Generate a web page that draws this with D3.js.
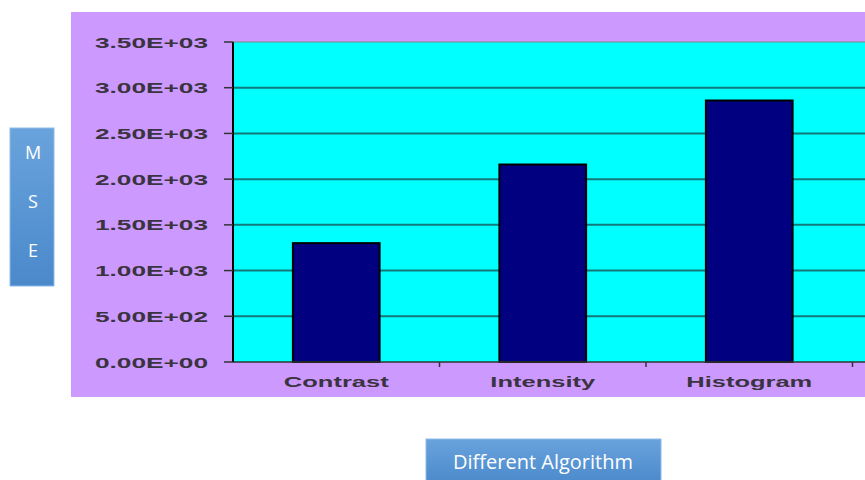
<!DOCTYPE html>
<html>
<head>
<meta charset="utf-8">
<script src="https://cdn.jsdelivr.net/npm/d3@7"></script>
<style>
  body { margin: 0; background: #fff; }
  .tickText { font-family: Arial, "Liberation Sans", sans-serif; font-weight: bold; font-size: 15px; fill: #3a3340; }
  .boxText { font-family: "Open Sans", sans-serif; fill: #fff; }
</style>
</head>
<body>
<svg width="865" height="480"></svg>
<script>
var svg = d3.select("svg"),
    width = +svg.attr("width"),
    height = +svg.attr("height");

// data
var categories = ["Contrast", "Intensity", "Histogram"];
var mseValues = [1300, 2160, 2860];
var yTicks = [0, 500, 1000, 1500, 2000, 2500, 3000, 3500];

var plot = {left: 233, right: 852.5, top: 42, bottom: 362};

var y = d3.scaleLinear().domain([0, 3500]).range([plot.bottom, plot.top]);
var x = d3.scaleBand().domain(categories).range([plot.left, plot.right])
    .paddingInner(0.58).paddingOuter(0.29);

// "3.50E+03" style labels
function sciFormat(v) {
  var s = d3.format(".2e")(v).toUpperCase(); // 3.50E+3
  return s.replace(/E([+-])(\d)$/, "E$10$2");
}

var defs = svg.append("defs");
var grad = defs.append("linearGradient").attr("id", "boxGrad")
    .attr("x1", 0).attr("y1", 0).attr("x2", 0).attr("y2", 1);
grad.append("stop").attr("offset", "0%").attr("stop-color", "#69a3dd");
grad.append("stop").attr("offset", "100%").attr("stop-color", "#4b89cb");

// chart area (lavender) and plot area (cyan)
svg.append("rect")
    .attr("x", 71).attr("y", 12)
    .attr("width", width - 71 + 5).attr("height", 385)
    .attr("fill", "#cc99ff");

svg.append("rect")
    .attr("x", plot.left).attr("y", plot.top)
    .attr("width", width - plot.left + 5).attr("height", plot.bottom - plot.top)
    .attr("fill", "#00ffff");

// gridlines
svg.selectAll(".grid")
    .data(yTicks.filter(function (d) { return d > 0; }))
    .enter().append("line")
    .attr("class", "grid")
    .attr("x1", plot.left).attr("x2", width + 5)
    .attr("y1", function (d) { return y(d); })
    .attr("y2", function (d) { return y(d); })
    .attr("stroke", function (d) { return d == 3500 ? "#7a8a8a" : "#137878"; })
    .attr("stroke-width", function (d) { return d == 3500 ? 1.2 : 2; });

// bars
svg.selectAll(".bar")
    .data(mseValues)
    .enter().append("rect")
    .attr("class", "bar")
    .attr("x", function (d, i) { return x(categories[i]); })
    .attr("y", function (d) { return y(d); })
    .attr("width", x.bandwidth())
    .attr("height", function (d) { return y(0) - y(d); })
    .attr("fill", "#000080")
    .attr("stroke", "#000")
    .attr("stroke-width", 2);

// x axis line and ticks at band boundaries
svg.append("line")
    .attr("x1", plot.left).attr("x2", width + 5)
    .attr("y1", plot.bottom).attr("y2", plot.bottom)
    .attr("stroke", "#333").attr("stroke-width", 1.5);

var bounds = categories.map(function (c) { return x(c) - x.step() * x.paddingInner() / 2 + x.step(); });
svg.selectAll(".xtick")
    .data(bounds)
    .enter().append("line")
    .attr("x1", function (d) { return d; }).attr("x2", function (d) { return d; })
    .attr("y1", plot.bottom).attr("y2", plot.bottom + 5)
    .attr("stroke", "#333").attr("stroke-width", 1.5);

svg.selectAll(".xlabel")
    .data(categories)
    .enter().append("text")
    .attr("class", "tickText")
    .attr("text-anchor", "middle")
    .attr("transform", function (d) { return "translate(" + (x(d) + x.bandwidth() / 2) + ",387) scale(1.7,1)"; })
    .text(function (d) { return d; });

// y axis
svg.append("line")
    .attr("x1", plot.left).attr("x2", plot.left)
    .attr("y1", plot.top).attr("y2", plot.bottom)
    .attr("stroke", "#000").attr("stroke-width", 2);

svg.selectAll(".ytick")
    .data(yTicks)
    .enter().append("line")
    .attr("x1", plot.left - 9).attr("x2", plot.left)
    .attr("y1", function (d) { return y(d); })
    .attr("y2", function (d) { return y(d); })
    .attr("stroke", "#333").attr("stroke-width", 1.5);

svg.selectAll(".ylabel")
    .data(yTicks)
    .enter().append("text")
    .attr("class", "tickText")
    .attr("text-anchor", "end")
    .attr("transform", function (d) { return "translate(208," + (y(d) + 5.5) + ") scale(1.75,1)"; })
    .text(sciFormat);

// MSE box
svg.append("rect")
    .attr("x", 10).attr("y", 128).attr("width", 44).attr("height", 158)
    .attr("fill", "url(#boxGrad)").attr("stroke", "#8dbbe8").attr("stroke-width", 1);

svg.selectAll(".mse")
    .data(["M", "S", "E"])
    .enter().append("text")
    .attr("class", "boxText")
    .attr("x", 33)
    .attr("y", function (d, i) { return 159 + i * 49; })
    .attr("text-anchor", "middle")
    .attr("font-size", 18)
    .text(function (d) { return d; });

// x title box
svg.append("rect")
    .attr("x", 426).attr("y", 439).attr("width", 235).attr("height", 45)
    .attr("fill", "url(#boxGrad)").attr("stroke", "#8dbbe8").attr("stroke-width", 1);

svg.append("text")
    .attr("class", "boxText")
    .attr("x", 543).attr("y", 469)
    .attr("text-anchor", "middle")
    .attr("font-size", 20)
    .text("Different Algorithm");
</script>
</body>
</html>
